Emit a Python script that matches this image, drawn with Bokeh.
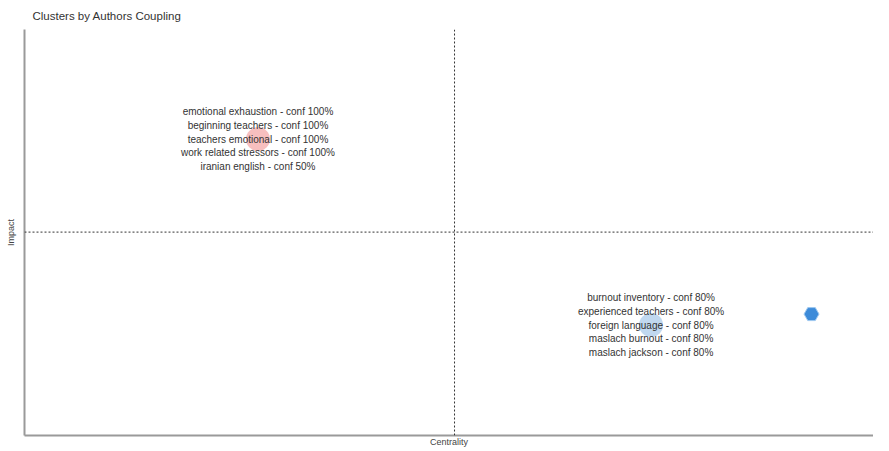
import numpy as np
from bokeh.plotting import figure, ColumnDataSource
from bokeh.models import Span, Range1d, FixedTicker
from bokeh.embed import file_html
from bokeh.resources import INLINE
from bokeh.core.properties import value

# ---- data ----
cluster_centrality = [0.275, 0.738]
cluster_impact = [0.730, 0.272]
cluster_colors = ["#F08A8A", "#8DB8E2"]
cluster_sizes = [24, 24]
cluster_labels = [
    ["emotional exhaustion - conf 100%", "beginning teachers - conf 100%",
     "teachers emotional - conf 100%", "work related stressors - conf 100%",
     "iranian english - conf 50%"],
    ["burnout inventory - conf 80%", "experienced teachers - conf 80%",
     "foreign language - conf 80%", "maslach burnout - conf 80%",
     "maslach jackson - conf 80%"],
]
logo_x = [0.927]
logo_y = [0.299]

title = "Clusters by Authors Coupling"
x_label = "Centrality"
y_label = "Impact"

p = figure(frame_width=849, frame_height=406, output_backend="svg", toolbar_location=None,
           x_range=Range1d(0, 1), y_range=Range1d(0, 1),
           min_border_left=24, min_border_right=0, min_border_top=6, min_border_bottom=0)
p.title.text = title
p.title.text_font = "Liberation Sans"
p.title.text_font_size = "11.5px"
p.title.text_font_style = "normal"
p.title.text_color = "#333333"
p.title.offset = 8
p.title.standoff = 15

p.outline_line_color = None
p.grid.visible = False
for ax in (p.xaxis, p.yaxis):
    ax.ticker = FixedTicker(ticks=[])
    ax.major_tick_line_color = None
    ax.minor_tick_line_color = None
    ax.major_label_standoff = 0
    ax.major_label_text_font_size = "0px"
    ax.major_tick_out = 0
    ax.major_tick_in = 0
    ax.axis_line_color = "#9a9a9a"
    ax.axis_line_width = 2
    ax.axis_label_text_font = "Liberation Sans"
    ax.axis_label_text_font_size = "9px"
    ax.axis_label_text_font_style = "normal"
    ax.axis_label_text_color = "#444444"
    ax.axis_label_standoff = 9
p.xaxis.axis_label_standoff = 1
p.xaxis.axis_label = x_label
p.yaxis.axis_label = y_label

vx = float(np.mean(cluster_centrality))
hy = float(np.mean(cluster_impact))
p.add_layout(Span(location=vx, dimension="height", line_color="#333333",
                  line_dash="2 2", line_width=1))
p.add_layout(Span(location=hy, dimension="width", line_color="#333333",
                  line_dash="2 2", line_width=1))

src = ColumnDataSource(dict(x=cluster_centrality, y=cluster_impact,
                            c=cluster_colors, s=cluster_sizes))
p.scatter("x", "y", size="s", fill_color="c", fill_alpha=0.55, line_color=None, source=src)

tx, ty, tt, toff = [], [], [], []
for i, labs in enumerate(cluster_labels):
    n = len(labs)
    for j, lab in enumerate(labs):
        tx.append(cluster_centrality[i])
        ty.append(cluster_impact[i])
        tt.append(lab)
        toff.append((j - (n - 1) / 2) * 13.8)
tsrc = ColumnDataSource(dict(x=tx, y=ty, t=tt, yo=toff))
p.text("x", "y", text="t", y_offset="yo", source=tsrc, text_align="center",
       text_baseline="middle", text_font=value("Liberation Sans"),
       text_font_size="10px", text_color="#333333")

p.scatter(logo_x, logo_y, marker="hex", size=15, fill_color="#3D8BD9",
          line_color="#9ec8f0", line_width=1)

open("out.html", "w").write(file_html(p, INLINE))
